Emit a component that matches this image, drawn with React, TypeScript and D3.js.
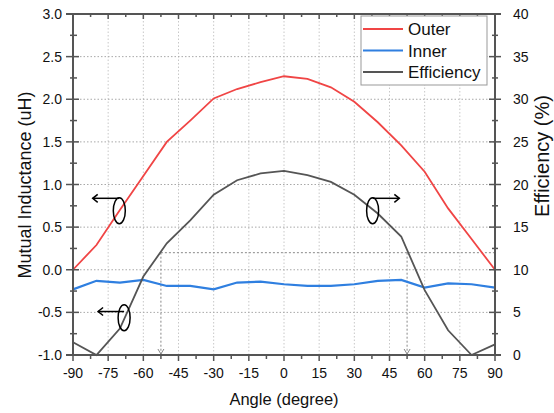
import React from "react";
import * as d3 from "d3";

const angles = [-90, -80, -70, -60, -50, -40, -30, -20, -10, 0, 10, 20, 30, 40, 50, 60, 70, 80, 90];
const outer = [0.0, 0.29, 0.7, 1.1, 1.5, 1.75, 2.01, 2.12, 2.2, 2.27, 2.24, 2.14, 1.97, 1.73, 1.46, 1.15, 0.72, 0.36, 0.0];
const inner = [-0.23, -0.13, -0.15, -0.12, -0.19, -0.19, -0.23, -0.15, -0.14, -0.17, -0.19, -0.19, -0.17, -0.13, -0.12, -0.21, -0.16, -0.17, -0.21];
const efficiency = [1.5, 0, 3.1, 9.2, 13.1, 15.8, 18.8, 20.5, 21.3, 21.6, 21.1, 20.3, 18.8, 16.6, 13.9, 7.6, 2.9, 0, 1.25];

const xTicks = [-90, -75, -60, -45, -30, -15, 0, 15, 30, 45, 60, 75, 90];
const yLeftTicks = [-1.0, -0.5, 0.0, 0.5, 1.0, 1.5, 2.0, 2.5, 3.0];
const yRightTicks = [0, 5, 10, 15, 20, 25, 30, 35, 40];
const seriesNames = ["Outer", "Inner", "Efficiency"];
const seriesColors = ["#f04545", "#2f7fe0", "#555555"];

const refAngle = 52.5;
const refEff = 12;

export default function App() {
  const W = 554, H = 413;
  const x = d3.scaleLinear().domain([-90, 90]).range([73, 495]);
  const yL = d3.scaleLinear().domain([-1, 3]).range([355, 14]);
  const yR = d3.scaleLinear().domain([0, 40]).range([355, 14]);
  const font = "Liberation Sans, Arial, sans-serif";
  const axisColor = "#555";

  const lineL = d3.line<number>().x((_, i) => x(angles[i])).y((d) => yL(d));
  const lineR = d3.line<number>().x((_, i) => x(angles[i])).y((d) => yR(d));

  const xMinor = d3.range(-90, 90.01, 7.5);
  const yLMinor = d3.range(-1, 3.001, 0.25);
  const yRMinor = d3.range(0, 40.01, 2.5);

  const ellipses = [
    { a: -70.25, v: 0.693, dir: -1, tip: -81.6, av: 0.838 },
    { a: -68.2, v: -0.563, dir: -1, tip: -79.3, av: -0.49 },
    { a: 37.8, v: 0.693, dir: 1, tip: 49.2, av: 0.838 },
  ];

  return (
    <svg width={W} height={H} style={{ position: "absolute", left: 0, top: 0, background: "#fff" }} fontFamily={font}>
      {/* grid */}
      {xTicks.slice(1, -1).map((t) => (
        <line key={"gx" + t} x1={x(t)} x2={x(t)} y1={14} y2={355} stroke="#c8c8c8" strokeDasharray="1.5,2" strokeWidth={1} />
      ))}
      {yLeftTicks.slice(1, -1).map((t) => (
        <line key={"gy" + t} x1={73} x2={495} y1={yL(t)} y2={yL(t)} stroke="#a8a8a8" strokeDasharray="1.5,2" strokeWidth={1} />
      ))}

      {/* reference lines */}
      <g stroke="#888" strokeWidth={1} fill="none">
        <line x1={x(-refAngle)} x2={495} y1={yR(refEff)} y2={yR(refEff)} strokeDasharray="2,2" />
        <line x1={x(-refAngle)} x2={x(-refAngle)} y1={yR(refEff)} y2={yR(0)} strokeDasharray="2,2" />
        <line x1={x(refAngle)} x2={x(refAngle)} y1={yR(refEff)} y2={yR(0)} strokeDasharray="2,2" />
        {[-refAngle, refAngle].map((a) => (
          <path key={"ah" + a} d={`M${x(a) - 3},${yR(0) - 6} L${x(a)},${yR(0) - 1} L${x(a) + 3},${yR(0) - 6}`} />
        ))}
      </g>

      {/* data lines */}
      <path d={lineL(outer) || ""} fill="none" stroke={seriesColors[0]} strokeWidth={1.8} />
      <path d={lineL(inner) || ""} fill="none" stroke={seriesColors[1]} strokeWidth={2.2} />
      <path d={lineR(efficiency) || ""} fill="none" stroke={seriesColors[2]} strokeWidth={1.8} />

      {/* annotations */}
      <g stroke="#000" strokeWidth={1.5} fill="none">
        {ellipses.map((e, i) => {
          const cx = x(e.a), cy = yL(e.v);
          const ay = yL(e.av);
          const tx = x(e.tip);
          return (
            <g key={"el" + i}>
              <ellipse cx={cx} cy={cy} rx={6} ry={13} />
              <line x1={cx} x2={tx} y1={ay} y2={ay} />
              <path d={`M${tx - e.dir * 5},${ay - 4} L${tx},${ay} L${tx - e.dir * 5},${ay + 4}`} />
            </g>
          );
        })}
      </g>

      {/* axes frame */}
      <g stroke={axisColor} strokeWidth={2} fill="none">
        <line x1={73} x2={73} y1={13} y2={356} />
        <line x1={495} x2={495} y1={13} y2={356} />
        <line x1={66} x2={501} y1={14} y2={14} />
        <line x1={66} x2={501} y1={355} y2={355} />
      </g>
      <g stroke={axisColor} strokeWidth={1.5}>
        {xMinor.map((t) => {
          const major = xTicks.includes(t);
          return <line key={"bt" + t} x1={x(t)} x2={x(t)} y1={355} y2={major ? 361 : 359} />;
        })}
        {xMinor.map((t) => {
          const major = xTicks.includes(t);
          return <line key={"tt" + t} x1={x(t)} x2={x(t)} y1={14} y2={major ? 19 : 17} />;
        })}
        {yLMinor.map((t) => {
          const major = Math.abs(t * 2 - Math.round(t * 2)) < 1e-6;
          return <line key={"lt" + t} x1={major ? 66 : 70} x2={major ? 79 : 77} y1={yL(t)} y2={yL(t)} />;
        })}
        {yRMinor.map((t) => {
          const major = Math.abs(t / 5 - Math.round(t / 5)) < 1e-6;
          return <line key={"rt" + t} x1={major ? 489 : 492} x2={major ? 501 : 498} y1={yR(t)} y2={yR(t)} />;
        })}
      </g>

      {/* tick labels */}
      <g fontSize={14} fill="#111">
        {xTicks.map((t) => (
          <text key={"xl" + t} x={x(t)} y={378} textAnchor="middle">{String(t)}</text>
        ))}
        {yLeftTicks.map((t) => (
          <text key={"yl" + t} x={62} y={yL(t) + 5} textAnchor="end">{t.toFixed(1)}</text>
        ))}
        {yRightTicks.map((t) => (
          <text key={"yr" + t} x={513} y={yR(t) + 5} textAnchor="start">{String(t)}</text>
        ))}
      </g>

      {/* axis titles */}
      <text x={284} y={405} fontSize={16.5} textAnchor="middle" fill="#111">Angle (degree)</text>
      <text transform={`translate(31,185) rotate(-90)`} fontSize={18} textAnchor="middle" fill="#111">Mutual Inductance (uH)</text>
      <text transform={`translate(549,156) rotate(-90)`} fontSize={20} textAnchor="middle" fill="#111">Efficiency (%)</text>

      {/* legend */}
      <rect x={361} y={16} width={126} height={69} fill="#fff" stroke="#999" strokeWidth={1} />
      {seriesNames.map((n, i) => (
        <g key={"lg" + n}>
          <line x1={363} x2={403} y1={29 + i * 21.5} y2={29 + i * 21.5} stroke={seriesColors[i]} strokeWidth={2} />
          <text x={408} y={29 + i * 21.5 + 6} fontSize={17} fill="#111">{n}</text>
        </g>
      ))}
    </svg>
  );
}
